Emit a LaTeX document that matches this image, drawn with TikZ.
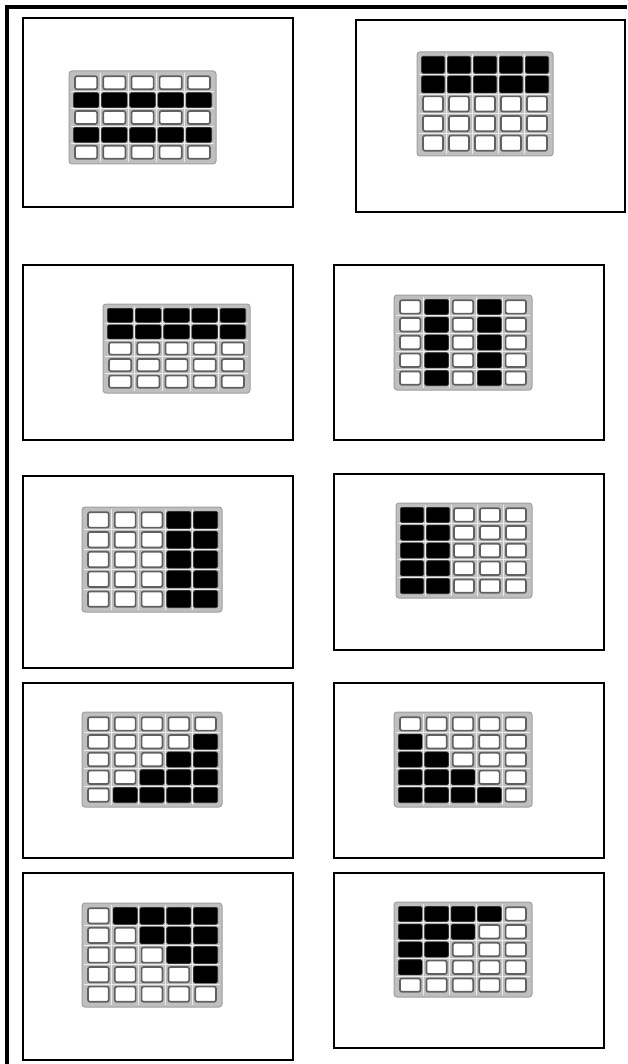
\documentclass[tikz,border=0pt]{standalone}
\begin{document}
\begin{tikzpicture}[x=1pt,y=-1pt,
  frame/.style={line width=4.5pt,black},
  panel/.style={draw=black,line width=1.6pt,fill=white},
  kpbg/.style={fill=gray!50,draw=gray!75,line width=1pt,rounded corners=3pt},
  gridl/.style={draw=white!85!gray,line width=0.7pt},
  wkey/.style={fill=white,draw=gray!75!black,line width=1.7pt,rounded corners=2pt},
  bkey/.style={fill=black,draw=black!80,line width=0.6pt,rounded corners=1.5pt}]
\useasboundingbox (0,0) rectangle (627,1064);
\fill[white] (0,0) rectangle (627,1064);
% outer frame
\coordinate (fb) at (7,1064);
\coordinate (fc) at (7,7);
\coordinate (fr) at (627,7);
\draw[frame] (fb) -- (fc) -- (fr);
% keypad macro: x0,y0,x1,y1, black cells r/c
\newcommand\kpad[5]{%
  \draw[kpbg] (#1,#2) rectangle (#3,#4);
  \pgfmathsetmacro\kcw{(#3-#1-6)/5}%
  \pgfmathsetmacro\kch{(#4-#2-6)/5}%
  \foreach \i in {1,...,4}{%
    \draw[gridl] ({#1+3+\i*\kcw},{#2+2}) -- ({#1+3+\i*\kcw},{#4-2});
    \draw[gridl] ({#1+2},{#2+3+\i*\kch}) -- ({#3-2},{#2+3+\i*\kch});
  }%
  \foreach \r in {0,...,4}{\foreach \c in {0,...,4}{%
    \draw[wkey] ({#1+3+\c*\kcw+3.0},{#2+3+\r*\kch+2.2}) rectangle ({#1+3+(\c+1)*\kcw-3.0},{#2+3+(\r+1)*\kch-2.2});
  }}%
  \foreach \r/\c in {#5}{%
    \draw[bkey] ({#1+3+\c*\kcw+1.3},{#2+3+\r*\kch+1.3}) rectangle ({#1+3+(\c+1)*\kcw-1.3},{#2+3+(\r+1)*\kch-1.3});
  }%
}
% panels
\draw[panel] (23,18) rectangle (293,207);
\kpad{69}{71}{216}{164}{1/0,1/1,1/2,1/3,1/4,3/0,3/1,3/2,3/3,3/4}
\draw[panel] (356,20) rectangle (625,212);
\kpad{417}{52}{553}{156}{0/0,0/1,0/2,0/3,0/4,1/0,1/1,1/2,1/3,1/4}
\draw[panel] (23,265) rectangle (293,440);
\kpad{103}{304}{250}{393}{0/0,0/1,0/2,0/3,0/4,1/0,1/1,1/2,1/3,1/4}
\draw[panel] (334,265) rectangle (604,440);
\kpad{394}{295}{532}{390}{0/1,1/1,2/1,3/1,4/1,0/3,1/3,2/3,3/3,4/3}
\draw[panel] (23,476) rectangle (293,668);
\kpad{82}{507}{222}{612}{0/3,1/3,2/3,3/3,4/3,0/4,1/4,2/4,3/4,4/4}
\draw[panel] (334,474) rectangle (604,650);
\kpad{396}{503}{532}{598}{0/0,1/0,2/0,3/0,4/0,0/1,1/1,2/1,3/1,4/1}
\draw[panel] (23,683) rectangle (293,858);
\kpad{82}{712}{222}{807}{1/4,2/3,2/4,3/2,3/3,3/4,4/1,4/2,4/3,4/4}
\draw[panel] (334,683) rectangle (604,858);
\kpad{394}{712}{532}{807}{1/0,2/0,2/1,3/0,3/1,3/2,4/0,4/1,4/2,4/3}
\draw[panel] (23,873) rectangle (293,1060);
\kpad{82}{903}{222}{1007}{0/1,0/2,0/3,0/4,1/2,1/3,1/4,2/3,2/4,3/4}
\draw[panel] (334,873) rectangle (604,1048);
\kpad{394}{902}{532}{997}{0/0,0/1,0/2,0/3,1/0,1/1,1/2,2/0,2/1,3/0}
\end{tikzpicture}
\end{document}
